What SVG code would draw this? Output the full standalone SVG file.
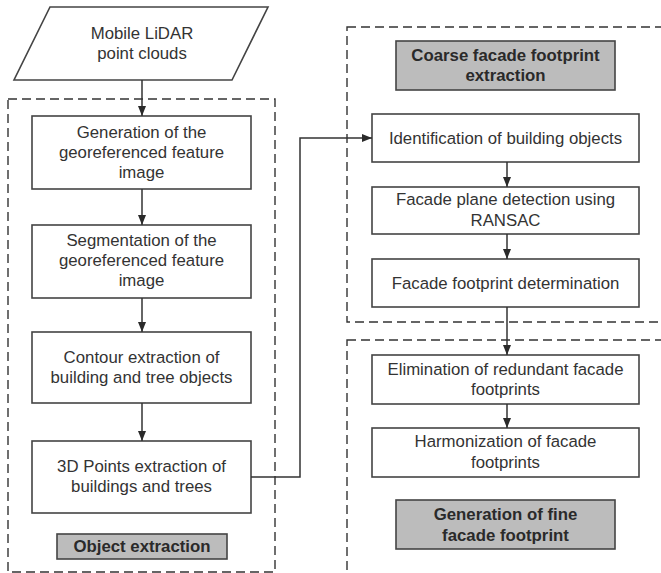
<svg xmlns="http://www.w3.org/2000/svg" width="661" height="573" viewBox="0 0 661 573">
<defs>
<marker id="ah" markerWidth="10" markerHeight="10" viewBox="0 0 10 10" refX="10" refY="5" orient="auto" markerUnits="userSpaceOnUse">
<path d="M0,1 L10,5 L0,9 Z" fill="#2a2a2a"/>
</marker>
</defs>
<style>
.box{fill:#ffffff;stroke:#444;stroke-width:1.6}
.lbl{fill:#bcbcbc;stroke:#444;stroke-width:1.6}
.dash{fill:none;stroke:#333;stroke-width:1.4;stroke-dasharray:9 5}
.t{font-family:"Liberation Sans",Arial,sans-serif;font-size:16.8px;fill:#333;text-anchor:middle}
.b{font-family:"Liberation Sans",Arial,sans-serif;font-size:16.8px;font-weight:bold;fill:#2a2a2a;text-anchor:middle}
.c{fill:none;stroke:#333;stroke-width:1.5}
</style>
<rect width="661" height="573" fill="#ffffff"/>
<g id="groups">
<rect class="dash" x="8" y="99" width="267" height="473"/>
<rect class="dash" x="347" y="27" width="330" height="295"/>
<rect class="dash" x="347" y="340" width="330" height="240"/>
</g>
<g id="input">
<polygon class="box" points="50,7 268,7 232,80 14,80"/>
<text class="t" x="142" y="39">Mobile LiDAR</text>
<text class="t" x="142" y="59">point clouds</text>
</g>
<g id="gen">
<rect class="box" x="32" y="116" width="219" height="73"/>
<text class="t" x="141.5" y="138">Generation of the</text>
<text class="t" x="141.5" y="158">georeferenced feature</text>
<text class="t" x="141.5" y="178">image</text>
</g>
<g id="seg">
<rect class="box" x="32" y="225" width="219" height="73"/>
<text class="t" x="141.5" y="246">Segmentation of the</text>
<text class="t" x="141.5" y="266">georeferenced feature</text>
<text class="t" x="141.5" y="286">image</text>
</g>
<g id="contour">
<rect class="box" x="32" y="332" width="219" height="71"/>
<text class="t" x="141.5" y="363">Contour extraction of</text>
<text class="t" x="141.5" y="383">building and tree objects</text>
</g>
<g id="points3d">
<rect class="box" x="32" y="441" width="219" height="72"/>
<text class="t" x="141.5" y="472">3D Points extraction of</text>
<text class="t" x="141.5" y="492">buildings and trees</text>
</g>
<g id="objlabel">
<rect class="lbl" x="57" y="534" width="170" height="25"/>
<text class="b" x="142" y="552">Object extraction</text>
</g>
<g id="coarselabel">
<rect class="lbl" x="396" y="41" width="219" height="49"/>
<text class="b" x="505.5" y="61">Coarse facade footprint</text>
<text class="b" x="505.5" y="81">extraction</text>
</g>
<g id="ident">
<rect class="box" x="372" y="114" width="267" height="48"/>
<text class="t" x="505.5" y="144">Identification of building objects</text>
</g>
<g id="plane">
<rect class="box" x="372" y="187" width="267" height="47"/>
<text class="t" x="505.5" y="205">Facade plane detection using</text>
<text class="t" x="505.5" y="226">RANSAC</text>
</g>
<g id="footdet">
<rect class="box" x="372" y="259" width="267" height="48"/>
<text class="t" x="505.5" y="289">Facade footprint determination</text>
</g>
<g id="elim">
<rect class="box" x="372" y="355" width="267" height="49"/>
<text class="t" x="505.5" y="375">Elimination of redundant facade</text>
<text class="t" x="505.5" y="395">footprints</text>
</g>
<g id="harm">
<rect class="box" x="372" y="428" width="267" height="49"/>
<text class="t" x="505.5" y="447">Harmonization of facade</text>
<text class="t" x="505.5" y="468">footprints</text>
</g>
<g id="finelabel">
<rect class="lbl" x="396" y="500" width="219" height="49"/>
<text class="b" x="505.5" y="520">Generation of fine</text>
<text class="b" x="505.5" y="541">facade footprint</text>
</g>
<g id="connectors">
<line class="c" x1="142" y1="80" x2="142" y2="116" marker-end="url(#ah)"/>
<line class="c" x1="142" y1="189" x2="142" y2="225" marker-end="url(#ah)"/>
<line class="c" x1="142" y1="298" x2="142" y2="332" marker-end="url(#ah)"/>
<line class="c" x1="142" y1="403" x2="142" y2="441" marker-end="url(#ah)"/>
<polyline class="c" points="251,477 300,477 300,138 372,138" marker-end="url(#ah)"/>
<line class="c" x1="507" y1="162" x2="507" y2="187" marker-end="url(#ah)"/>
<line class="c" x1="507" y1="234" x2="507" y2="259" marker-end="url(#ah)"/>
<line class="c" x1="507" y1="307" x2="507" y2="355" marker-end="url(#ah)"/>
<line class="c" x1="507" y1="404" x2="507" y2="428" marker-end="url(#ah)"/>
</g>
</svg>
